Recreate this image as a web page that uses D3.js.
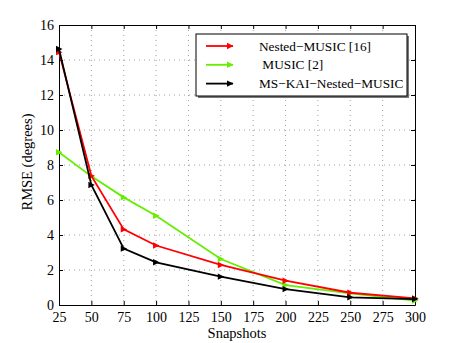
<!DOCTYPE html>
<html>
<head>
<meta charset="utf-8">
<script src="https://cdn.jsdelivr.net/npm/d3@7"></script>
<style>
    body { margin: 0; background: #fff; }
    text { font-family: "Liberation Serif", "Times New Roman", serif; fill: #000; }
    .axis text { font-size: 14px; }
    .axis path, .axis line { stroke: #000; }
</style>
</head>
<body>
<div id="fig"></div>
<script>
    // Data
    var snapshots = [25, 50, 75, 100, 150, 200, 250, 300];
    var nestedMusic = [14.45, 7.38, 4.32, 3.40, 2.29, 1.39, 0.70, 0.38];
    var music = [8.73, 7.35, 6.15, 5.10, 2.63, 1.14, 0.67, 0.25];
    var msKai = [14.63, 6.86, 3.22, 2.44, 1.62, 0.91, 0.44, 0.34];
    var seriesNames = ["Nested\u2212MUSIC [16]", " MUSIC [2]", "MS\u2212KAI\u2212Nested\u2212MUSIC"];
    var seriesColors = ["#ff0000", "#66ee00", "#000000"];
    var xTicks = [25, 50, 75, 100, 125, 150, 175, 200, 225, 250, 275, 300];
    var yTicks = [0, 2, 4, 6, 8, 10, 12, 14, 16];

    var W = 458, H = 343;
    var margin = { top: 25, right: 43, bottom: 38, left: 59 };
    var width = W - margin.left - margin.right;
    var height = H - margin.top - margin.bottom;

    var svg = d3.select("#fig").append("svg")
        .attr("width", W)
        .attr("height", H);

    var g = svg.append("g")
        .attr("transform", "translate(" + margin.left + "," + margin.top + ")");

    var xScale = d3.scaleLinear().domain([25, 300]).range([0, width]);
    var yScale = d3.scaleLinear().domain([0, 16]).range([height, 0]);

    // Grid
    g.append("g").selectAll("line.gx")
        .data(xTicks.slice(1, -1))
        .enter().append("line")
        .attr("x1", function (d) { return xScale(d); })
        .attr("x2", function (d) { return xScale(d); })
        .attr("y1", 0).attr("y2", height)
        .attr("stroke", "#888").attr("stroke-width", 0.8)
        .attr("stroke-dasharray", "1,4");
    g.append("g").selectAll("line.gy")
        .data(yTicks.slice(1, -1))
        .enter().append("line")
        .attr("y1", function (d) { return yScale(d); })
        .attr("y2", function (d) { return yScale(d); })
        .attr("x1", 0).attr("x2", width)
        .attr("stroke", "#888").attr("stroke-width", 0.8)
        .attr("stroke-dasharray", "1,4");

    // Axes (ticks inside, box on all sides)
    var xAxis = d3.axisBottom(xScale).tickValues(xTicks).tickSizeInner(-4).tickSizeOuter(0).tickPadding(7);
    var yAxis = d3.axisLeft(yScale).tickValues(yTicks).tickSizeInner(-4).tickSizeOuter(0).tickPadding(5);

    g.append("g").attr("class", "x axis")
        .attr("transform", "translate(0," + height + ")")
        .call(xAxis);
    g.append("g").attr("class", "y axis")
        .call(yAxis);
    g.append("g").attr("class", "axis")
        .call(d3.axisTop(xScale).tickValues(xTicks).tickSizeInner(-4).tickSizeOuter(0).tickFormat(""));
    g.append("g").attr("class", "axis")
        .attr("transform", "translate(" + width + ",0)")
        .call(d3.axisRight(yScale).tickValues(yTicks).tickSizeInner(-4).tickSizeOuter(0).tickFormat(""));

    // Lines
    var allSeries = [nestedMusic, music, msKai];
    var line = d3.line()
        .x(function (d, i) { return xScale(snapshots[i]); })
        .y(function (d) { return yScale(d); });

    var tri = "M-3,-3.2L3.5,0L-3,3.2Z";

    // draw green first, red, then black on top
    [1, 0, 2].forEach(function (k) {
        var vals = allSeries[k];
        g.append("path")
            .datum(vals)
            .attr("fill", "none")
            .attr("stroke", seriesColors[k])
            .attr("stroke-width", 1.8)
            .attr("d", line);
        g.selectAll("path.m" + k)
            .data(vals)
            .enter().append("path")
            .attr("class", "m" + k)
            .attr("d", tri)
            .attr("fill", seriesColors[k])
            .attr("transform", function (d, i) {
                return "translate(" + xScale(snapshots[i]) + "," + yScale(d) + ")";
            });
    });

    // Legend
    var lg = svg.append("g").attr("transform", "translate(196,34)");
    lg.append("rect").attr("x", 2).attr("y", 2).attr("width", 211).attr("height", 62)
        .attr("fill", "#777");
    lg.append("rect").attr("x", 0).attr("y", 0).attr("width", 211).attr("height", 62)
        .attr("fill", "#fff").attr("stroke", "#000").attr("stroke-width", 1);
    seriesNames.forEach(function (name, i) {
        var yy = 12 + i * 18.8;
        lg.append("line").attr("x1", 10).attr("x2", 37).attr("y1", yy).attr("y2", yy)
            .attr("stroke", seriesColors[i]).attr("stroke-width", 1.8);
        lg.append("path").attr("d", tri).attr("fill", seriesColors[i])
            .attr("transform", "translate(34," + yy + ")");
        lg.append("text").attr("x", 63).attr("y", yy + 4.5)
            .style("font-size", "13.3px")
            .style("white-space", "pre")
            .text(name);
    });

    // Axis labels
    svg.append("text")
        .attr("x", margin.left + width / 2)
        .attr("y", 338)
        .attr("text-anchor", "middle")
        .style("font-size", "14.5px")
        .text("Snapshots");
    svg.append("text")
        .attr("transform", "translate(32,162)rotate(-90)")
        .attr("text-anchor", "middle")
        .style("font-size", "14.5px")
        .text("RMSE (degrees)");
</script>
</body>
</html>
